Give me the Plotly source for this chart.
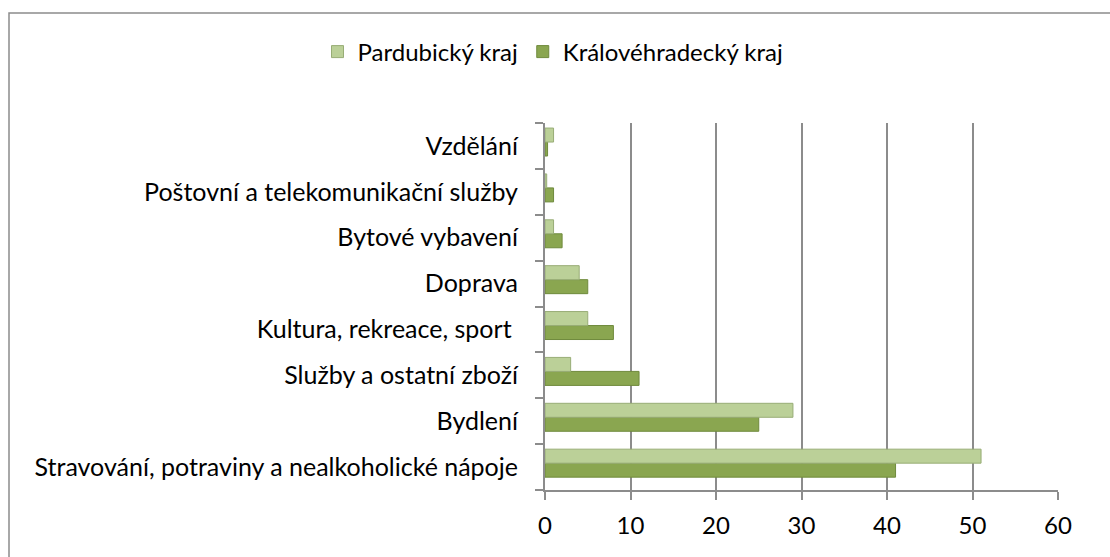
import plotly.graph_objects as go

categories = [
    "Stravování, potraviny a nealkoholické nápoje",
    "Bydlení",
    "Služby a ostatní zboží",
    "Kultura, rekreace, sport ",
    "Doprava",
    "Bytové vybavení",
    "Poštovní a telekomunikační služby",
    "Vzdělání",
]
pardubicky = [51, 29, 3, 5, 4, 1, 0.2, 1]
kralovehradecky = [41, 25, 11, 8, 5, 2, 1, 0.3]
x_ticks = [0, 10, 20, 30, 40, 50, 60]

W, H = 1110, 557
ML, MR, MT, MB = 545, 52, 123, 67
FONT = "Lato"
BAR_W = 0.305
LIFT = 0.085

fig = go.Figure()
fig.add_trace(go.Bar(
    y=categories, x=kralovehradecky, orientation="h",
    name="Královéhradecký kraj", legendrank=2,
    width=BAR_W, offset=-BAR_W + LIFT,
    marker=dict(color="#8aa650", line=dict(color="#6f8a3c", width=1)),
))
fig.add_trace(go.Bar(
    y=categories, x=pardubicky, orientation="h",
    name="Pardubický kraj", legendrank=1,
    width=BAR_W, offset=LIFT,
    marker=dict(color="#bbd098", line=dict(color="#98ad76", width=1)),
))

pw = W - ML - MR
ph = H - MT - MB
fig.add_shape(type="rect", xref="paper", yref="paper",
              x0=(9 - ML) / pw, x1=(W + 5 - ML) / pw,
              y0=(H - MB - (H + 5)) / ph, y1=(H - MB - 13) / ph,
              line=dict(color="#8c8c8c", width=1.5), fillcolor="rgba(0,0,0,0)", layer="below")

fig.update_layout(
    width=W, height=H,
    margin=dict(l=ML, r=MR, t=MT, b=MB),
    paper_bgcolor="white", plot_bgcolor="white",
    barmode="overlay",
    font=dict(family=FONT, size=24, color="black"),
    legend=dict(orientation="h", x=(553 - ML) / pw, xanchor="center",
                y=(H - MB - 52) / ph, yanchor="middle",
                font=dict(size=24), itemwidth=30, traceorder="normal"),
    xaxis=dict(range=[0, 60], tickvals=x_ticks, showgrid=True, gridcolor="#8c8c8c", gridwidth=2,
               showline=True, linecolor="#8c8c8c", linewidth=2, ticks="outside", ticklen=8,
               tickcolor="#8c8c8c", tickwidth=2, zeroline=False, fixedrange=True,
               ticklabelstandoff=5),
    yaxis=dict(categoryorder="array", categoryarray=categories, showline=True,
               linecolor="#8c8c8c", linewidth=2, ticks="outside", ticklen=8, tickwidth=2,
               tickcolor="#8c8c8c", tickson="boundaries", showgrid=False, fixedrange=True,
               tickfont=dict(size=25), ticklabelstandoff=20),
)
fig.write_html("out.html", config={"displayModeBar": False},
               post_script="document.body.style.margin='0';document.body.style.overflow='hidden';")
